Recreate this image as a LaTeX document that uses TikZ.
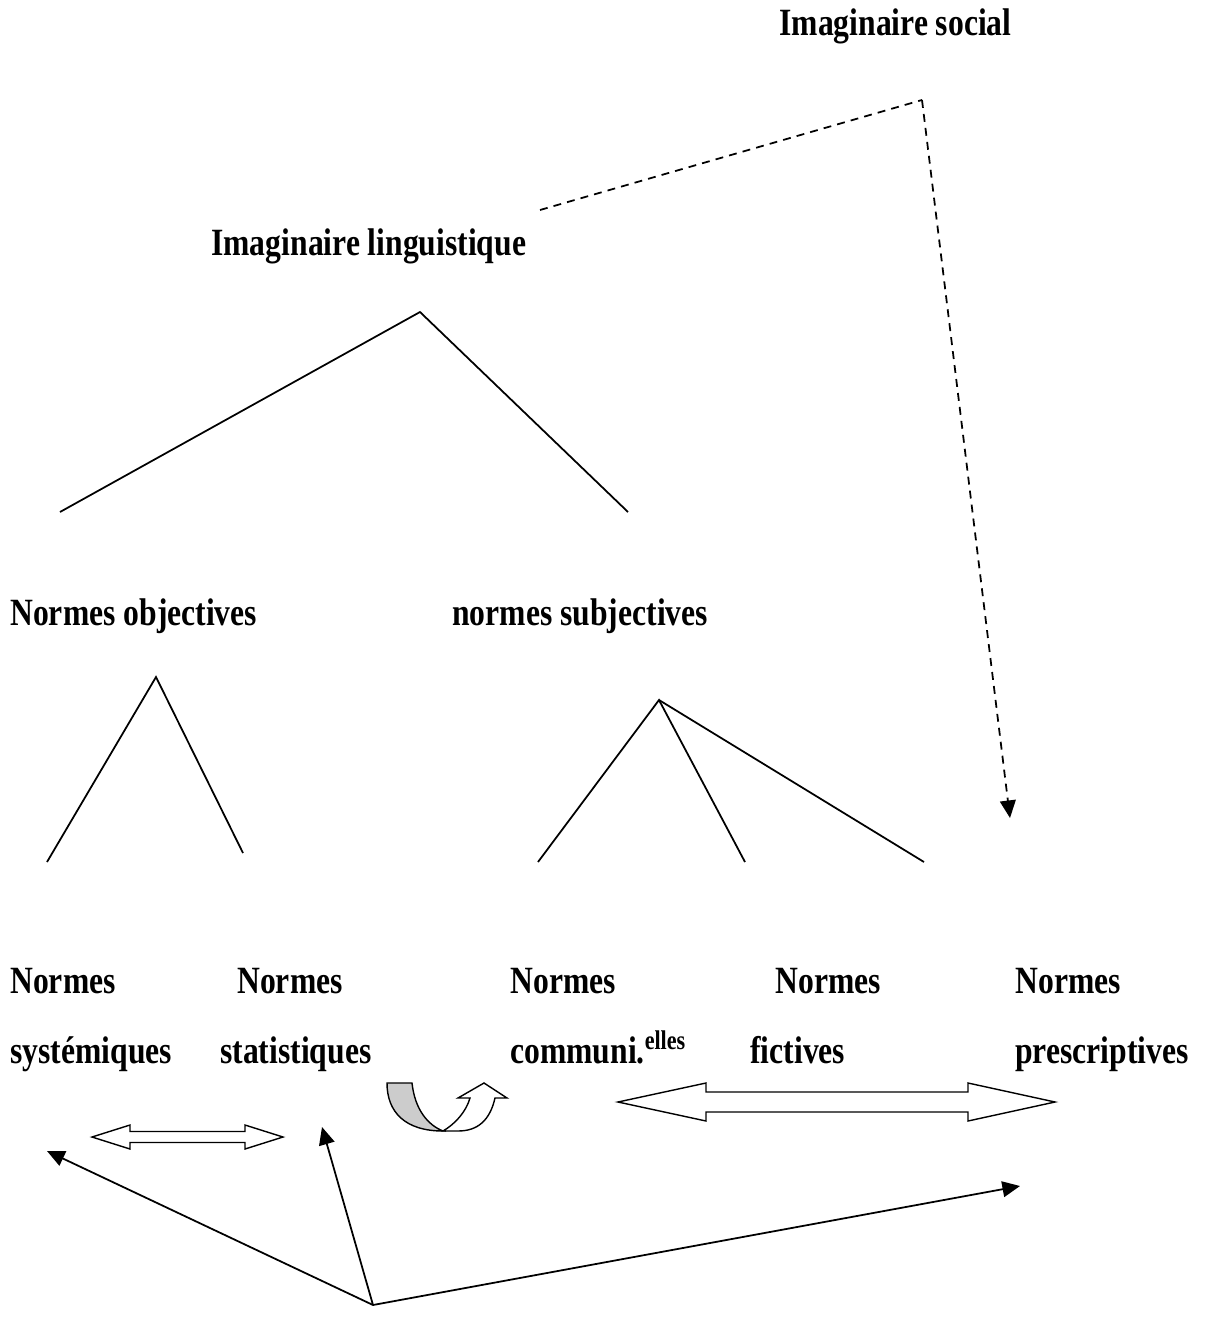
\documentclass[tikz,border=0pt]{standalone}
\usepackage{fontspec}
\setmainfont{Liberation Serif}
\usepackage{graphicx}
\usepackage{tikz}
\usetikzlibrary{arrows.meta, positioning, calc}
\definecolor{shade}{RGB}{204, 204, 204}
\newcommand{\tallword}[1]{\scalebox{1}[1.22]{#1}}
\tikzstyle{term} = [anchor=base west, inner sep=0pt, font=\fontsize{18}{22}\selectfont\bfseries]
\tikzstyle{branch} = [line width=1pt]
\tikzstyle{arrow} = [branch, -{Triangle[length=10pt, width=9pt]}]
\tikzstyle{dashline} = [branch, dash pattern=on 4.5pt off 3.5pt]
\tikzstyle{bigarrow} = [line width=0.8pt, draw=black, fill=white, line join=miter]

\begin{document}
\begin{tikzpicture}[x=0.02cm, y=-0.02cm]
    \useasboundingbox (0,0) rectangle (1210,1333);

    % Top labels
    \node[term] (social) at (779,35) {\tallword{Imaginaire social}};
    \node[term] (ling) at (211,255) {\tallword{Imaginaire linguistique}};

    % Dashed link to the prescriptive norms
    \coordinate (d1) at (540,210);
    \coordinate (d2) at (922,100);
    \coordinate (d3) at (1010,818);
    \draw[dashline] (d1) -- (d2);
    \draw[dashline, -{Triangle[length=10pt, width=9pt]}] (d2) -- (d3);

    % First split
    \coordinate (top) at (420,312);
    \draw[branch] (60,512) -- (top) -- (628,512);

    \node[term] (obj) at (10,625) {\tallword{Normes objectives}};
    \node[term] (subj) at (452,625) {\tallword{normes subjectives}};

    % Second split (objectives)
    \coordinate (objtop) at (156,677);
    \draw[branch] (47,862) -- (objtop) -- (243,853);

    % Second split (subjectives)
    \coordinate (subtop) at (659,700);
    \draw[branch] (538,862) -- (subtop) -- (745,862);
    \draw[branch] (subtop) -- (924,862);

    % Norms, first line
    \node[term] (n1) at (10,993) {\tallword{Normes}};
    \node[term] (n2) at (237,993) {\tallword{Normes}};
    \node[term] (n3) at (510,993) {\tallword{Normes}};
    \node[term] (n4) at (775,993) {\tallword{Normes}};
    \node[term] (n5) at (1015,993) {\tallword{Normes}};

    % Norms, second line
    \node[term] (s1) at (10,1063) {\tallword{systémiques}};
    \node[term] (s2) at (220,1063) {\tallword{statistiques}};
    \node[term] (s3) at (510,1063) {\tallword{communi.\textsuperscript{elles}}};
    \node[term] (s4) at (750,1063) {\tallword{fictives}};
    \node[term] (s5) at (1015,1063) {\tallword{prescriptives}};

    % Double arrows
    \draw[bigarrow] (92,1137) -- (130,1125) -- (130,1131.5) -- (245,1131.5) -- (245,1125)
        -- (283,1137) -- (245,1149) -- (245,1142.5) -- (130,1142.5) -- (130,1149) -- cycle;
    \draw[bigarrow] (618,1102) -- (706,1083) -- (706,1092) -- (968,1092) -- (968,1083)
        -- (1055,1102) -- (968,1121) -- (968,1112) -- (706,1112) -- (706,1121) -- cycle;

    % U-turn arrow
    \draw[bigarrow, fill=shade] (387,1083) -- (412,1083)
        .. controls (415,1110) and (428,1125) .. (443,1131)
        .. controls (405,1131) and (387,1112) .. cycle;
    \draw[bigarrow] (443,1131) .. controls (455,1124) and (466,1112) .. (470,1098)
        -- (458,1098) -- (484,1083) -- (507,1098) -- (495,1098)
        .. controls (490,1120) and (478,1131) .. (458,1131) -- cycle;

    % Bottom arrows
    \coordinate (src) at (373,1305);
    \coordinate (t1) at (47,1151);
    \coordinate (t2) at (322,1127);
    \coordinate (t3) at (1020,1186);
    \draw[arrow] (src) -- (t1);
    \draw[arrow] (src) -- (t2);
    \draw[arrow] (src) -- (t3);
\end{tikzpicture}
\end{document}
